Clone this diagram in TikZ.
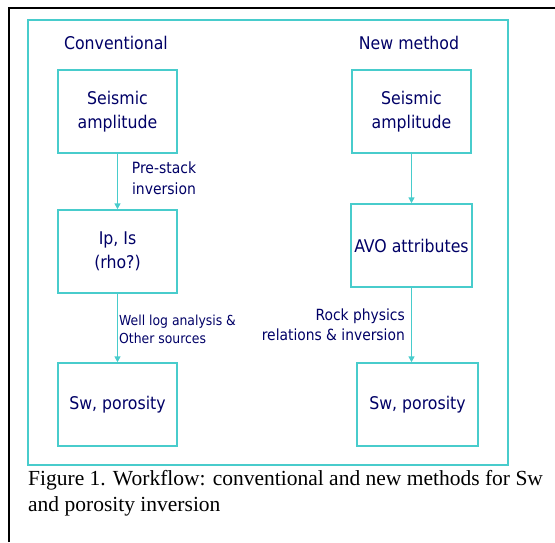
\documentclass[tikz,border=0pt]{standalone}
\usepackage{fontspec}
\setmainfont{Liberation Serif}
\newfontfamily\boxfont{DejaVu Sans Condensed}
\usetikzlibrary{arrows.meta}
\definecolor{wfcyan}{RGB}{72,204,204}
\definecolor{wfnavy}{RGB}{0,0,102}
\tikzset{
  wfbox/.style={draw=wfcyan, line width=1.5pt, minimum width=119pt, minimum height=83pt,
    align=center, text=wfnavy, font=\boxfont\fontsize{17.5}{24}\selectfont},
  wfarrow/.style={draw=wfcyan, line width=1.5pt, -{Triangle[length=6pt,width=6pt]}},
  wflabel/.style={text=wfnavy, inner sep=0pt}
}
\begin{document}
\begin{tikzpicture}[x=1pt,y=-1pt]
  \useasboundingbox (0,0) rectangle (555,542);
  %frames
  \draw[line width=2pt] (9,542) -- (9,8) -- (555,8);
  \draw[wfcyan, line width=1.5pt] (28,20) rectangle (508,465);

  %headings
  \node[wflabel, font=\boxfont\fontsize{17.5}{20}\selectfont] (headconv) at (116,43) {Conventional};
  \node[wflabel, font=\boxfont\fontsize{17.5}{20}\selectfont] (headnew) at (409,43) {New method};

  %conventional workflow
  \node[wfbox] (seisL) at (117.5,111.5) {Seismic\\amplitude};
  \node[wfbox] (ipis) at (117.5,251.5) {Ip, Is\\(rho?)};
  \node[wfbox] (swL) at (117.5,404.5) {Sw, porosity};
  \draw[wfarrow] (seisL) -- (ipis);
  \draw[wfarrow] (ipis) -- (swL);
  \node[wflabel, align=center, font=\boxfont\fontsize{15.5}{21}\selectfont] (prestack) at (164,178) {Pre-stack\\inversion};
  \node[wflabel, align=left, anchor=west, font=\boxfont\fontsize{13.8}{18}\selectfont] (welllog) at (119,329) {Well log analysis \&\\Other sources};

  %new method workflow
  \node[wfbox] (seisR) at (411.5,111.5) {Seismic\\amplitude};
  \node[wfbox] (avo) at (411.5,245.5) {AVO attributes};
  \node[wfbox, minimum width=121pt] (swR) at (417.5,404.5) {Sw, porosity};
  \draw[wfarrow] (seisR) -- (avo);
  \draw[wfarrow] (avo.south) -- (avo.south |- swR.north);
  \node[wflabel, align=right, anchor=east, font=\boxfont\fontsize{15.4}{20}\selectfont] (rockphys) at (405,325) {Rock physics\\relations \& inversion};

  %caption
  \node[anchor=north west, inner sep=0pt, align=left, font=\fontsize{21.5}{26.5}\selectfont] (caption) at (28,470)
    {Figure 1. Workflow: conventional and new methods for Sw\\and porosity inversion};
\end{tikzpicture}
\end{document}
